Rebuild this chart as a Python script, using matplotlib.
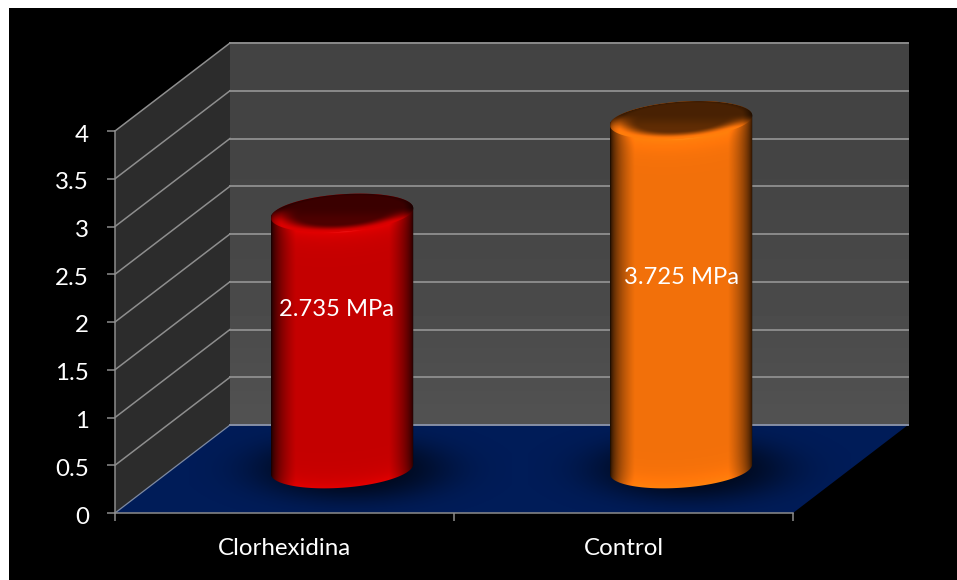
import matplotlib
matplotlib.use("Agg")
import matplotlib.pyplot as plt
import numpy as np
from matplotlib.patches import Polygon, Rectangle
from matplotlib.transforms import ScaledTranslation

categories = ["Clorhexidina", "Control"]
values = [2.735, 3.725]
value_labels = ["2.735 MPa", "3.725 MPa"]
ytick_values = [0, 0.5, 1, 1.5, 2, 2.5, 3, 3.5, 4]
ytick_labels = ["0", "0.5", "1", "1.5", "2", "2.5", "3", "3.5", "4"]
bar_colors = [(0.77, 0.0, 0.0), (0.95, 0.44, 0.04)]

W, H = 957, 580
LEFT, RIGHT, TOP, BOTTOM = 115, 793, 131, 513
PX_X = (RIGHT - LEFT) / 2        # px per category
PX_Y = (BOTTOM - TOP) / 4        # px per value unit
DX = 115 / PX_X                  # chart depth, in data units
DY = 88 / PX_Y
DEPTH_MID = 0.5
SKEW = 0.7 * DX                  # sideways lean of the cylinder ends
RAD_X = 69 / PX_X                # cylinder radius along x
RAD_D = 0.22                     # cylinder radius along the depth axis
FORESHORTEN = 0.98               # perspective shrink of bar heights
LABEL_Y = [2.135, 2.47]
GRID = "#8e8e8e"
AXIS = "#8c8c8c"
FONT = 17.4

plt.rcParams["font.family"] = ["Lato", "DejaVu Sans"]

fig = plt.figure(figsize=(W / 100, H / 100), dpi=100, facecolor="white")
fig.patches.append(Rectangle((9 / W, 0), 1 - 9 / W, 1 - 8 / H, transform=fig.transFigure,
                             facecolor="black", edgecolor="none", figure=fig, zorder=-1))
ax = fig.add_axes([LEFT / W, 1 - BOTTOM / H, (RIGHT - LEFT) / W, (BOTTOM - TOP) / H])
ax.patch.set_visible(False)


def clip_to(im, pts):
    # images may spill past the axes box, only the given outline trims them
    im.set_clip_box(fig.bbox)
    im.set_clip_path(Polygon(pts, transform=ax.transData))


def side_edge(t):
    # Ellipse traced by the cylinder's circular section under the oblique projection
    return RAD_X * np.cos(t) + RAD_D * SKEW * np.sin(t), RAD_D * DY * np.sin(t)


def smooth(a, b, x):
    t = np.clip((x - a) / (b - a), 0, 1)
    return t * t * (3 - 2 * t)


def draw_shadow(cx, cy, floor):
    xs = np.linspace(cx - 0.45, cx + 0.5, 240)
    ys = np.linspace(cy - 0.5, cy + 0.5, 120)
    X, Y = np.meshgrid(xs, ys)
    r = np.sqrt(((X - cx - 0.025) * PX_X / 97) ** 2 + ((Y - cy) * PX_Y / 32) ** 2)
    rgba = np.zeros(X.shape + (4,))
    rgba[..., 3] = 0.72 * np.exp(-r ** 3)
    im = ax.imshow(rgba, extent=(xs[0], xs[-1], ys[0], ys[-1]), origin="lower",
                   interpolation="bilinear", zorder=3)
    clip_to(im, floor)


def draw_cylinder(cx, cy, value, rgb):
    height = value * FORESHORTEN
    base = np.array(rgb)
    half_w = np.hypot(RAD_X, RAD_D * SKEW)
    t_right = np.arctan2(RAD_D * SKEW, RAD_X)

    # silhouette: front arc of the base, then back arc of the top
    t_front = np.linspace(t_right, t_right - np.pi, 120)
    ex, ey = side_edge(t_front)
    t_back = np.linspace(t_right - np.pi, t_right - 2 * np.pi, 120)
    bx, by = side_edge(t_back)
    side_poly = np.vstack([np.c_[cx + ex, cy + ey],
                           np.c_[cx + bx, cy + height + by]])

    xs = np.linspace(cx - half_w, cx + half_w, 290)
    ys = np.linspace(cy - 0.35, cy + height + 0.35, 700)
    X, Y = np.meshgrid(xs, ys)
    u = (X - cx) / half_w
    front_y = np.interp(xs, ex[::-1] + cx, ey[::-1])
    v_top = (cy + height + front_y[None, :] - Y) * PX_Y      # px below top rim
    v_bot = (Y - cy - front_y[None, :]) * PX_Y               # px above base rim

    shade = np.clip(0.08 + 1.3 * (1 - u ** 2) ** 0.62, 0, 1)
    light = 1 + 0.16 * np.exp(-np.abs(v_top) / 9) + 0.15 * np.exp(-np.clip(v_bot, 0, None) / 9)
    body = base[None, None, :] * (shade * light)[..., None]
    # specular glint on the top rim
    glint = np.exp(-((X - cx - 0.006) * PX_X / 13) ** 2 - ((v_top + 1.5) / 1.4) ** 2)
    body = np.clip(body + 0.6 * glint[..., None], 0, 1)
    im = ax.imshow(body, extent=(xs[0], xs[-1], ys[0], ys[-1]), origin="lower",
                   interpolation="bilinear", zorder=4)
    clip_to(im, side_poly)

    # top face: dark disc fading into the bevel at the front
    dy = Y - (cy + height)
    r = np.sqrt(((X - cx - SKEW * dy / DY) / RAD_X) ** 2 + (dy / (RAD_D * DY)) ** 2)
    front = smooth(0.3, -0.5, dy / (RAD_D * DY))
    face = 0.30 + 0.1 * front + 0.72 * smooth(0.6, 0.98, r) * front - 0.08 * smooth(0.85, 1.0, r) * (1 - front)
    face = face * np.clip(0.35 + 1.1 * (1 - u ** 2) ** 0.4, 0, 1)
    im = ax.imshow(base[None, None, :] * face[..., None],
                   extent=(xs[0], xs[-1], ys[0], ys[-1]), origin="lower",
                   interpolation="bilinear", zorder=5)
    tx, ty = side_edge(np.linspace(0, 2 * np.pi, 200))
    clip_to(im, np.c_[cx + tx, cy + height + ty])


# back wall, lighter towards the floor
wall = np.linspace(0, 1, 64)[:, None]
wall = np.clip(0.262 + 0.06 * wall ** 2, 0, 1)[::-1]
ax.imshow(wall, extent=(DX, 2 + DX, DY, 4 + DY), origin="lower", cmap="gray",
          vmin=0, vmax=1, interpolation="bilinear", zorder=1, clip_on=False)

# side wall and floor
ax.add_patch(Polygon([(0, 0), (DX, DY), (DX, 4 + DY), (0, 4)], facecolor="#2c2c2c",
                     edgecolor="none", zorder=1, clip_on=False))
floor_pts = [(0, 0), (2, 0), (2 + DX, DY), (DX, DY)]
ax.add_patch(Polygon(floor_pts, facecolor="#001c58", edgecolor="none", zorder=1, clip_on=False))
ax.plot([0, DX], [0, DY], color="#7f8ba3", lw=0.9, zorder=2, clip_on=False)

# gridlines run across the side wall and along the back wall
for tick in ytick_values:
    color = "#8a8a8a" if tick else "#8790a6"
    ax.plot([DX, 2 + DX], [tick + DY, tick + DY], color=color, lw=1.4, zorder=2, clip_on=False)
    if tick:
        ax.plot([0, DX], [tick, tick + DY], color=GRID, lw=1.1, zorder=2, clip_on=False)

for i, (val, rgb) in enumerate(zip(values, bar_colors)):
    cx = i + 0.5 + DEPTH_MID * DX
    cy = DEPTH_MID * DY
    draw_shadow(cx, cy, floor_pts)
    draw_cylinder(cx, cy, val, rgb)
    ax.text(cx - (0.015 if i == 0 else 0), LABEL_Y[i], value_labels[i], color="white",
            fontsize=FONT - 0.3, ha="center", va="center", zorder=6)

ax.set_xlim(0, 2)
ax.set_ylim(0, 4)
ax.set_aspect("auto")

ax.set_yticks(ytick_values, ytick_labels)
ax.set_xticks([0, 1, 2], ["", "", ""])
ax.set_xticks([0.5, 1.5], categories, minor=True)
ax.tick_params(axis="y", colors="white", labelsize=FONT, length=5.8, width=1.1, color=AXIS, pad=13)
ax.tick_params(axis="x", which="major", length=5.8, width=1.1, color=AXIS)
ax.tick_params(axis="x", which="minor", length=0, colors="white", labelsize=FONT, pad=18)
# value labels sit a touch below their ticks
nudge = ScaledTranslation(0, -2 / 100, fig.dpi_scale_trans)
for lbl in ax.get_yticklabels():
    lbl.set_transform(lbl.get_transform() + nudge)
for side in ("top", "right"):
    ax.spines[side].set_visible(False)
for side in ("left", "bottom"):
    ax.spines[side].set_color(AXIS)
    ax.spines[side].set_linewidth(1.1)
    ax.spines[side].set_zorder(7)

fig.savefig("out.png", dpi=100, facecolor=fig.get_facecolor())
